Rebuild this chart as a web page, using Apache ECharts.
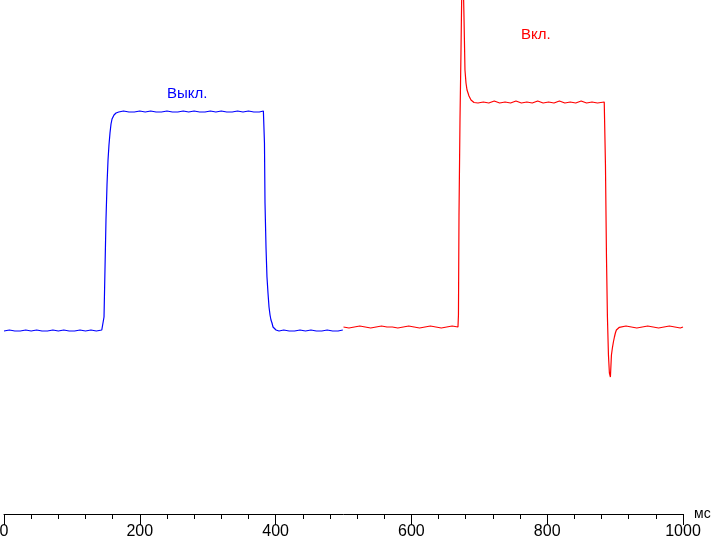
<!DOCTYPE html>
<html>
<head>
<meta charset="utf-8">
<script src="https://cdn.jsdelivr.net/npm/echarts@6/dist/echarts.min.js"></script>
<style>
html,body{margin:0;padding:0;background:#fff;}
#chart{width:711px;height:542px;}
</style>
</head>
<body>
<div id="chart"></div>
<script>
// x axis (ms)
var xTicks = [0, 200, 400, 600, 800, 1000];
var xUnit = 'мс';
var offLabel = 'Выкл.';
var onLabel = 'Вкл.';

// "Выкл." trace (blue): time in ms, level in arbitrary units
var offTime = [
  0, 8, 16, 24, 32, 40, 48, 56, 64, 72, 80, 88, 96, 104, 112, 120, 128, 136, 144,
  146, 147.3, 148.7, 150.2, 151.7, 153.2, 154.6, 156.1, 157.6, 159.1, 162, 165, 169,
  176, 184, 192, 200, 208, 216, 224, 232, 240, 248, 256, 264, 272, 280, 288, 296,
  304, 312, 320, 328, 336, 344, 352, 360, 368, 376, 382,
  383, 383.6, 384.4, 385.9, 387.3, 388.8, 390.3, 391.8, 393.2, 394.7, 396.2, 397.6, 400.6, 405,
  412, 420, 428, 436, 444, 452, 460, 468, 476, 484, 492, 499
];
var offLevel = [
  183, 184, 183, 183, 184, 183, 184, 183, 183, 184, 183, 184, 183, 183, 184, 183, 184, 183, 184,
  184, 197, 244, 294, 329, 354, 369, 381, 390, 395, 399, 401, 402,
  403, 402, 402, 403, 402, 403, 402, 402, 403, 402, 402, 403, 402, 403, 402, 402,
  403, 402, 403, 402, 402, 403, 402, 403, 402, 402, 403,
  402, 371, 311, 266, 237, 221, 207, 199, 194, 191, 187, 185, 184, 183,
  184, 183, 183, 184, 183, 184, 183, 183, 184, 183, 183, 184
];

// "Вкл." trace (red)
var onTime = [
  500, 508, 516, 524, 532, 540, 548, 556, 564, 572, 580, 588, 596, 604, 612, 620,
  628, 636, 644, 652, 660, 668.6,
  669.3, 670.1, 671.6, 673.0, 674.5, 675.5, 677.4, 678.9, 680.4, 681.9, 683.4, 684.8,
  686.3, 687.8, 689.2, 692.2,
  698, 706, 714, 722, 730, 738, 746, 754, 762, 770, 778, 786, 794, 802, 810, 818,
  826, 834, 842, 850, 858, 866, 874, 884,
  885.1, 885.8, 887.3, 888.7, 890.2, 891.6, 893.1, 894.6, 896.0, 897.5, 899.0, 900.4,
  901.9, 903.4, 906.3, 909,
  916, 924, 932, 940, 948, 956, 964, 972, 980, 988, 996, 1000
];
var onLevel = [
  187, 186, 187, 188, 187, 186, 187, 188, 187, 187, 186, 187, 188, 187, 186, 187,
  188, 187, 186, 187, 188, 187,
  199, 299, 396, 461, 540, 560, 499, 444, 431, 424, 421, 418,
  416, 414, 412, 411.5,
  411, 412, 411, 413, 411, 412, 411, 413, 411, 412, 411, 413, 411, 412, 411, 413,
  411, 412, 411, 413, 411, 412, 411, 412,
  411, 349, 257, 197, 159, 141, 137, 159, 166, 172, 177, 181,
  184, 185.7, 186.7, 187,
  188, 187, 186, 187, 188, 187, 186, 187, 188, 187, 186, 187
];

function pairs(t, v) {
  var out = [];
  for (var i = 0; i < t.length; i++) out.push([t[i], v[i]]);
  return out;
}

var chart = echarts.init(document.getElementById('chart'), null, {renderer: 'canvas'});
chart.setOption({
  animation: false,
  backgroundColor: '#ffffff',
  grid: {left: 4, right: 28, top: 0, bottom: 28, containLabel: false, outerBoundsMode: 'none'},
  xAxis: {
    type: 'value',
    min: xTicks[0],
    max: xTicks[xTicks.length - 1],
    interval: xTicks[1] - xTicks[0],
    name: xUnit,
    nameLocation: 'end',
    nameGap: 11,
    nameTextStyle: {color: '#000', fontFamily: 'Liberation Sans, Arial, sans-serif', fontSize: 14, verticalAlign: 'middle', padding: [0,0,4,0]},
    axisLine: {show: true, onZero: false, lineStyle: {color: '#000', width: 1}},
    axisTick: {show: true, length: 11, lineStyle: {color: '#000', width: 1}},
    minorTick: {show: true, splitNumber: 5, length: 5, lineStyle: {color: '#000', width: 1}},
    axisLabel: {color: '#000', fontFamily: 'Liberation Sans, Arial, sans-serif', fontSize: 16, margin: 10,
      showMinLabel: true, showMaxLabel: true, hideOverlap: false,
      formatter: function (v) { return String(v); }},
    splitLine: {show: false},
    minorSplitLine: {show: false}
  },
  yAxis: {
    type: 'value',
    min: 0,
    max: 514,
    show: false,
    splitLine: {show: false}
  },
  graphic: [
    {type: 'text', left: 167, top: 86, style: {text: offLabel, fill: '#0000ff', font: '15px "Liberation Sans", Arial, sans-serif'}},
    {type: 'text', left: 521, top: 27, style: {text: onLabel, fill: '#ff0000', font: '15px "Liberation Sans", Arial, sans-serif'}}
  ],
  series: [
    {
      name: offLabel, type: 'line', data: pairs(offTime, offLevel),
      showSymbol: false, symbol: 'none', clip: true,
      lineStyle: {color: '#0000ff', width: 1.2}, itemStyle: {color: '#0000ff'}
    },
    {
      name: onLabel, type: 'line', data: pairs(onTime, onLevel),
      showSymbol: false, symbol: 'none', clip: true,
      lineStyle: {color: '#ff0000', width: 1.2}, itemStyle: {color: '#ff0000'}
    }
  ]
});
</script>
</body>
</html>
